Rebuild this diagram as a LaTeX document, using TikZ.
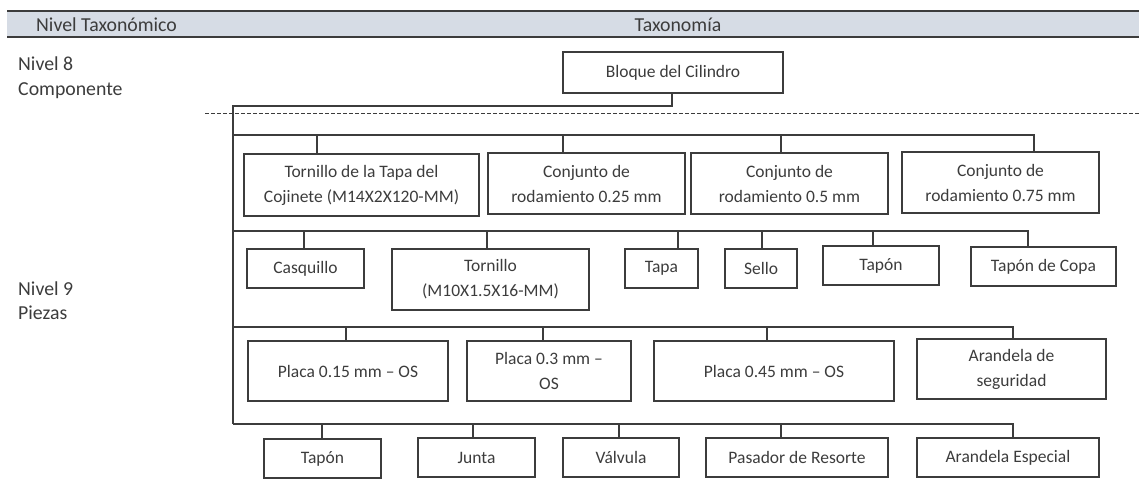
\documentclass[tikz,border=0pt]{standalone}
\usepackage{fontspec}
\setmainfont{Carlito}
\definecolor{ink}{HTML}{3C3C3C}
\definecolor{hdr}{HTML}{D6DCE5}
\begin{document}
\begin{tikzpicture}[x=1pt,y=-1pt,
  txt/.style={text=ink, inner sep=0pt, font=\fontsize{17.5}{25}\selectfont},
  big/.style={text=ink, inner sep=0pt, font=\fontsize{19.8}{24.5}\selectfont},
  box/.style={txt, draw=ink, line width=1.1pt, align=center},
  sz/.style 2 args={minimum width=#1pt, minimum height=#2pt},
  lbl/.style={big, align=left, anchor=west},
  con/.style={draw=ink, line width=1.1pt},
  sep/.style={draw=ink, line width=1pt, dash pattern=on 4pt off 2pt}]
\useasboundingbox (0,0) rectangle (1139,479);
% header band
\fill[hdr] (7,11) rectangle (1139,37);
\draw[draw=ink, line width=1.4pt] (7,11) -- (1139,11);
\draw[draw=ink, line width=1.4pt] (7,37) -- (1139,37);
\node[lbl] (hleft) at (36,24.5) {Nivel Taxonómico};
\node[big] (hright) at (678,24.5) {Taxonomía};
% level labels
\node[lbl] (n8) at (18,77.5) {Nivel 8\\Componente};
\node[lbl] (n9) at (18,300.5) {Nivel 9\\Piezas};
% separator
\draw[sep] (205,113) -- (1139,113);
% root
\node[box, sz={220}{41}] (bloque) at (673,72.5) {Bloque del Cilindro};
% level 1
\node[box, sz={235}{62}] (c1) at (361.5,185) {Tornillo de la Tapa del\\Cojinete (M14X2X120-MM)};
\node[box, sz={197}{61}] (c2) at (586.5,183.5) {Conjunto de\\rodamiento 0.25 mm};
\node[box, sz={197}{61}] (c3) at (789.5,183.5) {Conjunto de\\rodamiento 0.5 mm};
\node[box, sz={197}{61}] (c4) at (1000.5,182.5) {Conjunto de\\rodamiento 0.75 mm};
% level 2
\node[box, sz={117}{39}] (p1) at (305.5,268.5) {Casquillo};
\node[box, sz={197}{61}] (p2) at (490.5,279.5) {Tornillo\\(M10X1.5X16-MM)};
\node[box, sz={73}{39}] (p3) at (661.5,268.5) {Tapa};
\node[box, sz={72}{39}] (p4) at (761,268.5) {Sello};
\node[box, sz={116}{39}] (p5) at (881,265.5) {Tapón};
\node[box, sz={145}{39}] (p6) at (1043.5,266.5) {Tapón de Copa};
% level 3
\node[box, sz={200}{60}] (q1) at (348,371) {Placa 0.15 mm – OS};
\node[box, sz={164}{60}] (q2) at (549,371) {Placa 0.3 mm –\\OS};
\node[box, sz={240}{60}] (q3) at (774,371) {Placa 0.45 mm – OS};
\node[box, sz={189}{60}] (q4) at (1011.5,369) {Arandela de\\seguridad};
% level 4
\node[box, sz={117}{39}] (r1) at (322.5,458.5) {Tapón};
\node[box, sz={117}{39}] (r2) at (476.5,457.5) {Junta};
\node[box, sz={116}{39}] (r3) at (621,457.5) {Válvula};
\node[box, sz={182}{39}] (r4) at (797,457.5) {Pasador de Resorte};
\node[box, sz={182}{39}] (r5) at (1008,457.5) {Arandela Especial};
% trunk and buses
\coordinate (T0) at (233,106);
\coordinate (J1) at (233,135);
\coordinate (J2) at (233,231);
\coordinate (J3) at (233,327);
\coordinate (J4) at (233,424);
\draw[con] ([xshift=-1pt]bloque.south) |- (T0) -- (J4);
% level 1 drops
\draw[con] ([xshift=-44.5pt]c1.north) |- (J1);
\draw[con] ([xshift=-23.5pt]c2.north) |- (J1);
\draw[con] ([xshift=-8.5pt]c3.north) |- (J1);
\draw[con] ([xshift=33.5pt]c4.north) |- (J1);
% level 2 drops
\draw[con] ([xshift=-1.5pt]p1.north) |- (J2);
\draw[con] ([xshift=-3.5pt]p2.north) |- (J2);
\draw[con] ([xshift=16.5pt]p3.north) |- (J2);
\draw[con] ([xshift=1pt]p4.north) |- (J2);
\draw[con] ([xshift=-8pt]p5.north) |- (J2);
\draw[con] ([xshift=-15.5pt]p6.north) |- (J2);
% level 3 drops
\draw[con] ([xshift=-2pt]q1.north) |- (J3);
\draw[con] ([xshift=-6pt]q2.north) |- (J3);
\draw[con] ([xshift=-7pt]q3.north) |- (J3);
\draw[con] ([xshift=1.5pt]q4.north) |- (J3);
% level 4 drops
\draw[con] ([xshift=-0.5pt]r1.north) |- (J4);
\draw[con] ([xshift=-3.5pt]r2.north) |- (J4);
\draw[con] ([xshift=-2pt]r3.north) |- (J4);
\draw[con] ([xshift=-16pt]r4.north) |- (J4);
\draw[con] ([xshift=5pt]r5.north) |- (J4);
\end{tikzpicture}
\end{document}
